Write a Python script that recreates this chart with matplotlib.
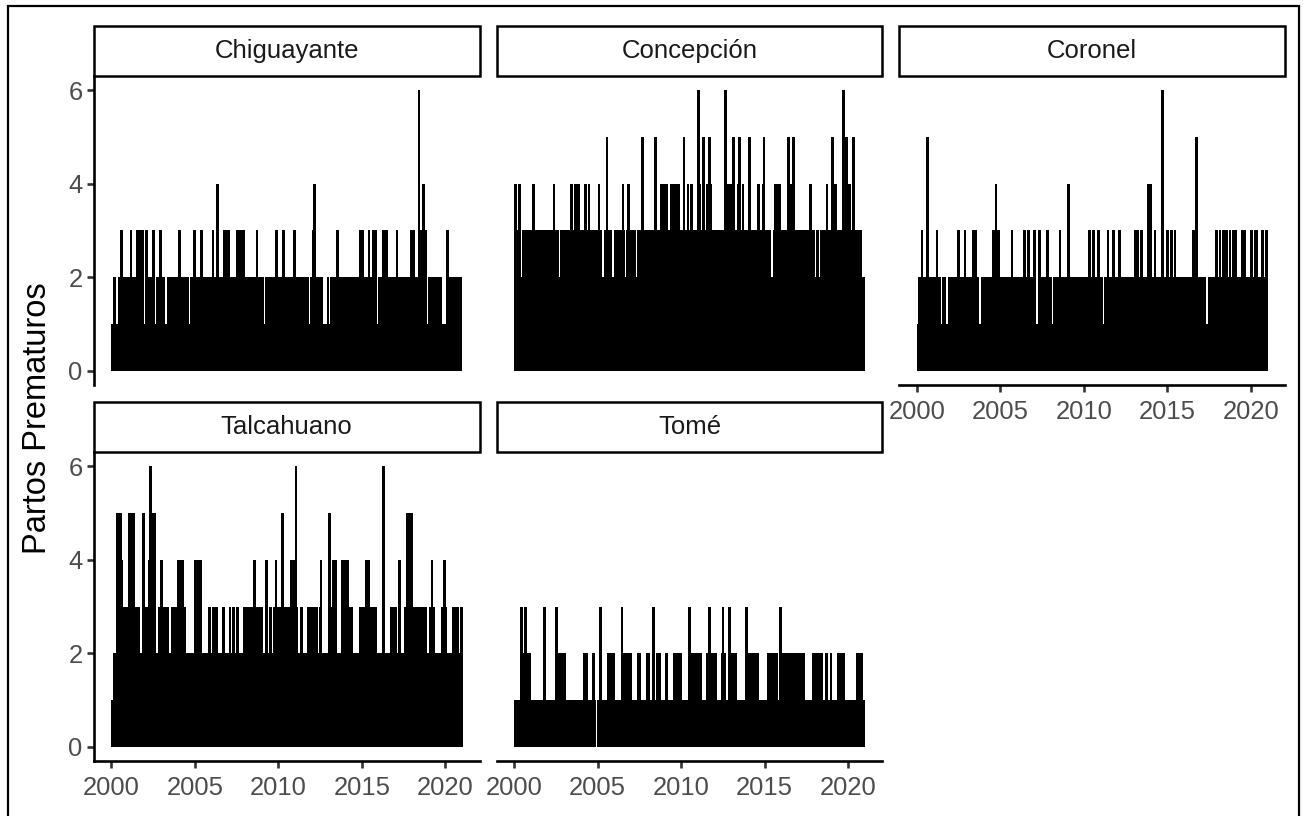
import matplotlib
matplotlib.use("Agg")
import matplotlib.pyplot as plt
from matplotlib.patches import Rectangle

plt.rcParams['font.family'] = ['Liberation Sans', 'DejaVu Sans']

W, H = 1304, 816

# ---------------- data ----------------
cities = ["Chiguayante", "Concepción", "Coronel", "Talcahuano", "Tomé"]
x_ticks = [2000, 2005, 2010, 2015, 2020]
y_ticks = [0, 2, 4, 6]
y_label = "Partos Prematuros"

# dense parts of each daily series: (start year, end year, level reached continuously)
chig_blocks = [(2000.00, 2021.00, 1),
               (2000.10, 2000.30, 2), (2000.42, 2001.94, 2), (2002.02, 2002.61, 2),
               (2002.69, 2003.23, 2), (2003.31, 2004.63, 2), (2004.71, 2009.14, 2),
               (2009.22, 2011.84, 2), (2011.92, 2012.67, 2), (2012.91, 2013.03, 2),
               (2013.11, 2015.91, 2), (2015.99, 2018.86, 2), (2018.94, 2019.82, 2),
               (2020.14, 2021.00, 2)]
chig_spikes = {
    3: [2000.60, 2001.18, 2001.58, 2001.74, 2001.88, 2002.10, 2002.53, 2002.93,
        2004.09, 2004.99, 2005.39, 2006.09, 2006.77, 2006.93, 2007.05, 2007.56,
        2007.68, 2007.80, 2007.92, 2008.72, 2009.88, 2010.32, 2010.98, 2012.08,
        2013.55, 2014.91, 2015.03, 2015.43, 2015.67, 2015.81, 2016.31, 2016.47,
        2017.11, 2017.94, 2018.10, 2018.54, 2018.66, 2018.82, 2020.14],
    4: [2006.37, 2012.18, 2018.70],
    6: [2018.42],
}

conc_blocks = [(2000.00, 2021.00, 2),
               (2000.04, 2000.38, 3), (2000.50, 2002.69, 3), (2002.77, 2003.63, 3),
               (2003.71, 2005.29, 3), (2005.37, 2005.89, 3), (2005.97, 2006.63, 3),
               (2006.71, 2007.29, 3), (2007.37, 2011.48, 3), (2011.56, 2015.41, 3),
               (2015.49, 2018.02, 3), (2018.10, 2018.26, 3), (2018.34, 2020.86, 3),
               (2008.74, 2009.24, 4), (2009.32, 2009.92, 4), (2012.61, 2013.11, 4),
               (2015.55, 2016.01, 4), (2016.35, 2016.81, 4)]
conc_spikes = {
    4: [2000.10, 2000.34, 2001.18, 2002.38, 2003.45, 2003.69, 2003.85, 2004.29,
        2004.49, 2005.09, 2006.53, 2006.85, 2010.42, 2010.62, 2011.12, 2011.58,
        2011.78, 2013.41, 2013.71, 2014.63, 2014.93, 2015.63, 2015.77, 2015.91,
        2016.41, 2016.61, 2017.74, 2018.74, 2019.26, 2020.10],
    5: [2005.57, 2007.68, 2008.46, 2010.18, 2011.36, 2011.72, 2013.15, 2013.51,
        2014.11, 2014.97, 2016.45, 2016.75, 2019.06, 2019.90, 2020.34],
    6: [2011.04, 2012.67, 2019.74],
}

coro_blocks = [(2000.00, 2021.00, 1),
               (2000.06, 2001.42, 2), (2001.50, 2001.76, 2), (2001.84, 2003.75, 2),
               (2003.83, 2007.15, 2), (2007.23, 2008.10, 2), (2008.18, 2011.14, 2),
               (2011.22, 2017.33, 2), (2017.41, 2021.00, 2),
               (2004.59, 2004.89, 3), (2013.85, 2014.03, 4)]
coro_spikes = {
    3: [2000.30, 2001.20, 2002.50, 2002.89, 2003.39, 2003.55, 2004.59, 2004.89,
        2005.69, 2006.45, 2006.69, 2007.05, 2007.35, 2007.82, 2008.58, 2010.34,
        2010.58, 2010.88, 2011.44, 2011.78, 2012.14, 2013.07, 2013.21, 2013.47,
        2014.27, 2015.01, 2015.27, 2015.47, 2016.57, 2017.96, 2018.16, 2018.36,
        2018.56, 2018.76, 2018.96, 2019.08, 2019.52, 2019.66, 2020.06, 2020.26,
        2020.36, 2020.72, 2020.96],
    4: [2004.75, 2009.08, 2013.87, 2014.01],
    5: [2000.64, 2016.73],
    6: [2014.71],
}

talc_blocks = [(2000.00, 2021.00, 1), (2000.10, 2021.00, 2),
               (2000.30, 2001.70, 3), (2001.90, 2002.66, 3), (2003.60, 2004.50, 3),
               (2004.96, 2005.42, 3), (2007.86, 2009.10, 3), (2009.70, 2010.70, 3),
               (2011.70, 2012.20, 3), (2013.00, 2013.40, 3), (2013.80, 2014.50, 3),
               (2014.86, 2015.90, 3), (2016.70, 2017.10, 3), (2017.54, 2018.90, 3),
               (2000.34, 2000.60, 4), (2004.00, 2004.28, 4), (2017.74, 2017.98, 5)]
talc_spikes = {
    3: [2002.86, 2003.06, 2003.24, 2003.40, 2005.86, 2006.10, 2006.30, 2006.70,
        2007.10, 2007.30, 2007.54, 2009.30, 2009.54, 2010.90, 2011.10, 2011.40,
        2012.30, 2012.50, 2019.10, 2019.30, 2019.80, 2020.00, 2020.46, 2020.60,
        2020.74, 2020.98],
    4: [2000.60, 2002.26, 2003.02, 2004.00, 2004.16, 2004.28, 2005.06, 2005.22,
        2005.34, 2008.56, 2009.30, 2009.86, 2010.76, 2010.90, 2012.56, 2013.30,
        2013.42, 2013.86, 2014.00, 2014.14, 2015.26, 2015.40, 2017.26, 2019.20,
        2019.94],
    5: [2000.34, 2000.46, 2000.54, 2001.06, 2001.22, 2001.36, 2001.94, 2002.46,
        2002.60, 2010.24, 2013.06, 2017.74, 2017.86, 2017.98],
    6: [2002.34, 2011.06, 2016.30],
}

tome_blocks = [(2000.00, 2004.91, 1), (2004.95, 2021.00, 1),
               (2000.34, 2001.04, 2), (2002.50, 2003.09, 2), (2004.13, 2004.43, 2),
               (2004.69, 2004.83, 2), (2005.59, 2006.03, 2), (2006.43, 2007.03, 2),
               (2007.33, 2007.62, 2), (2007.92, 2008.16, 2), (2008.52, 2008.82, 2),
               (2009.02, 2009.22, 2), (2009.52, 2010.08, 2), (2010.42, 2011.28, 2),
               (2011.52, 2012.16, 2), (2012.36, 2012.67, 2), (2012.81, 2013.37, 2),
               (2013.91, 2014.67, 2), (2015.15, 2015.81, 2), (2015.87, 2017.45, 2),
               (2017.86, 2018.50, 2), (2018.60, 2018.80, 2), (2018.94, 2019.06, 2),
               (2019.34, 2019.80, 2), (2020.46, 2020.90, 2)]
tome_spikes = {
    3: [2000.44, 2000.70, 2001.80, 2002.53, 2005.17, 2006.47, 2008.36, 2010.52,
        2011.72, 2012.51, 2012.91, 2013.91, 2015.97],
}

city_blocks = [chig_blocks, conc_blocks, coro_blocks, talc_blocks, tome_blocks]
city_spikes = [chig_spikes, conc_spikes, coro_spikes, talc_spikes, tome_spikes]

# ---------------- layout ----------------
fig = plt.figure(figsize=(W / 100, H / 100), dpi=100)

col_left = [93.8, 496.6, 899.3]
row_top = [76.0, 452.0]
pw, ph = 385.7, 309.0
strip_h = 50.0

AX_LW = 1.9
TXT_COL = "#4D4D4D"
SPIKE_W = 0.16   # drawn width of a one-day spike, in years (about 2.7 px)


def add_px_axes(left, top, w, h):
    return fig.add_axes([left / W, 1 - (top + h) / H, w / W, h / H])


positions = [(0, 0), (0, 1), (0, 2), (1, 0), (1, 1)]
for i, city in enumerate(cities):
    r, c = positions[i]
    ax = add_px_axes(col_left[c], row_top[r], pw, ph)
    ax.set_facecolor("white")

    blocks = city_blocks[i]
    starts = [b[0] for b in blocks]
    ends = [b[1] for b in blocks]
    levels = [b[2] for b in blocks]
    ax.bar(starts, levels, width=[e - s for s, e in zip(starts, ends)],
           align="edge", color="black", linewidth=0)
    for val, yrs in city_spikes[i].items():
        ax.bar(yrs, [val] * len(yrs), width=SPIKE_W, align="center",
               color="black", linewidth=0)
    ax.set_xlim(1998.95, 2022.05)
    ax.set_ylim(-0.3, 6.3)

    for sp in ["top", "right"]:
        ax.spines[sp].set_visible(False)
    show_y = (c == 0)
    show_x = (r == 1) or (c == 2)
    ax.spines["left"].set_visible(show_y)
    ax.spines["bottom"].set_visible(show_x)
    for sp in ["left", "bottom"]:
        ax.spines[sp].set_linewidth(AX_LW)
        ax.spines[sp].set_color("black")

    if show_y:
        ax.set_yticks(y_ticks)
        ax.set_yticklabels([str(v) for v in y_ticks])
    else:
        ax.set_yticks([])
    if show_x:
        ax.set_xticks(x_ticks)
        ax.set_xticklabels([str(v) for v in x_ticks])
    else:
        ax.set_xticks([])
    ax.tick_params(axis="y", length=5, width=AX_LW, color="#333333",
                   labelsize=18.4, labelcolor=TXT_COL, pad=3)
    ax.tick_params(axis="x", length=5, width=AX_LW, color="#333333",
                   labelsize=18.4, labelcolor=TXT_COL, pad=5.5)

    # facet strip
    sh = strip_h / ph
    ax.add_patch(Rectangle((0, 1), 1, sh, transform=ax.transAxes, clip_on=False,
                           facecolor="white", edgecolor="black", lw=1.8, zorder=5))
    ax.text(0.5, 1 + sh / 2, city, transform=ax.transAxes, ha="center", va="center",
            fontsize=18.5, color="#1A1A1A", zorder=6)

fig.text(38 / W, 1 - 418 / H, y_label, rotation=90, ha="center", va="center",
         fontsize=23.5, color="black")

# outer frame of the original image
fig.add_artist(Rectangle((8 / W, 1 - 835 / H), (1299 - 8) / W, (835 - 6) / H,
                         transform=fig.transFigure, fill=False, edgecolor="black",
                         lw=1.6, clip_on=False))

fig.savefig("out.png", dpi=100, facecolor="white")
